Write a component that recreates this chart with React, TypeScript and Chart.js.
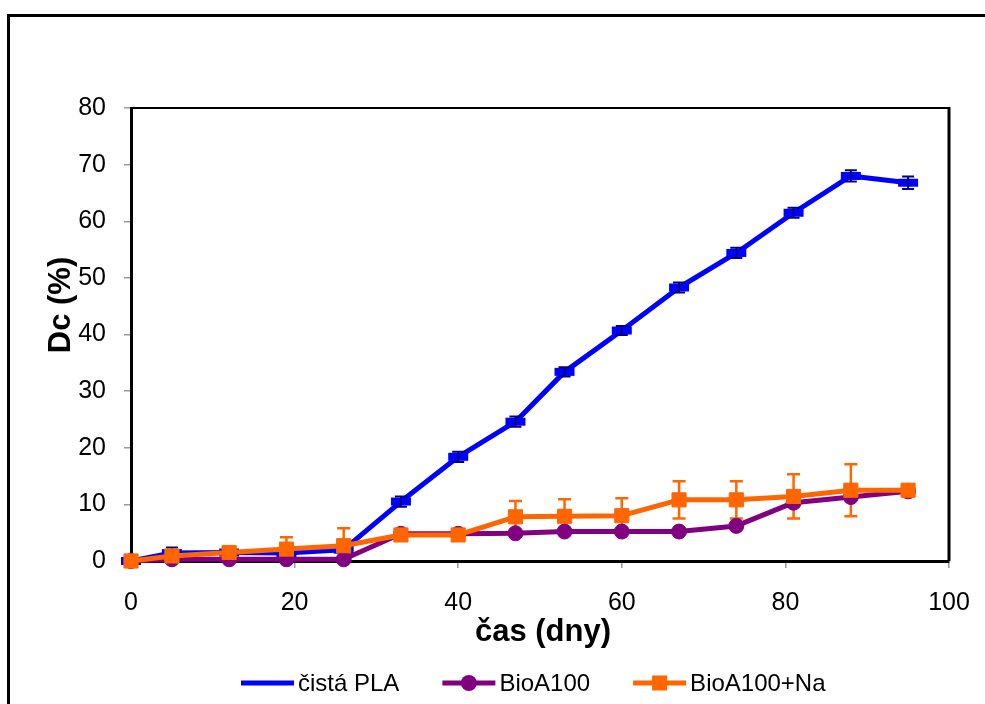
import React, { useEffect, useRef } from 'react';
import { Chart, registerables } from 'chart.js';

Chart.register(...registerables);

// ---- data ----
const days = [0, 5, 12, 19, 26, 33, 40, 47, 53, 60, 67, 74, 81, 88, 95];
const plaValues = [0, 1.4, 1.5, 1.4, 2.0, 10.5, 18.4, 24.6, 33.4, 40.7, 48.3, 54.4, 61.5, 68.0, 66.8];
const plaErrors = [0, 1.0, 0.3, 0.3, 0.3, 0.9, 0.9, 0.9, 0.8, 0.8, 0.9, 0.9, 0.9, 1.0, 1.1];
const bioValues = [0, 0.3, 0.3, 0.3, 0.3, 4.8, 4.8, 4.9, 5.2, 5.2, 5.2, 6.2, 10.3, 11.3, 12.3];
const bioNaValues = [0, 0.9, 1.5, 2.1, 2.7, 4.6, 4.6, 7.8, 7.9, 8.0, 10.8, 10.8, 11.4, 12.5, 12.5];
const bioNaErrors = [0, 0.3, 0.5, 2.1, 3.1, 0.3, 0.3, 2.8, 3.0, 3.1, 3.3, 3.3, 3.9, 4.6, 0.3];
const seriesNames = ['čistá PLA', 'BioA100', 'BioA100+Na'];
const xTicks = [0, 20, 40, 60, 80, 100];
const yTicks = [0, 10, 20, 30, 40, 50, 60, 70, 80];
const xTitle = 'čas (dny)';
const yTitle = 'Dc (%)';

const FONT = '"Liberation Sans", Arial, Helvetica, sans-serif';
const BLUE = '#0000FF';
const NAVY = '#000080';
const PURPLE = '#800080';
const ORANGE = '#FF6600';

function toPoints(vals: number[]) {
  return days.map((d, i) => ({ x: d, y: vals[i] }));
}

function drawErrors(chart: any, idx: number) {
  const ds: any = chart.data.datasets[idx];
  const errs: number[] | undefined = ds.errors;
  if (!errs) return;
  const ctx = chart.ctx;
  const xs = chart.scales.x;
  const ys = chart.scales.y;
  const area = chart.chartArea;
  ctx.save();
  ctx.strokeStyle = ds.errorColor;
  ctx.lineWidth = ds.errorWidth;
  const cap = ds.errorCap;
  ds.data.forEach((p: any, i: number) => {
    const e = errs[i];
    if (!e) return;
    const px = xs.getPixelForValue(p.x);
    const top = ys.getPixelForValue(p.y + e);
    const rawBot = ys.getPixelForValue(p.y - e);
    const bot = Math.min(rawBot, area.bottom);
    ctx.beginPath();
    ctx.moveTo(px, top);
    ctx.lineTo(px, bot);
    ctx.moveTo(px - cap, top);
    ctx.lineTo(px + cap, top);
    if (rawBot <= area.bottom) {
      ctx.moveTo(px - cap, bot);
      ctx.lineTo(px + cap, bot);
    }
    ctx.stroke();
  });
  ctx.restore();
}

const decorPlugin = {
  id: 'decor',
  beforeDraw(chart: any) {
    const ctx = chart.ctx;
    ctx.save();
    ctx.strokeStyle = '#000';
    ctx.lineWidth = 3;
    ctx.beginPath();
    ctx.moveTo(8.5, 720);
    ctx.lineTo(8.5, 15.5);
    ctx.lineTo(1000, 15.5);
    ctx.stroke();
    ctx.restore();
  },
  beforeDatasetsDraw(chart: any) {
    const ctx = chart.ctx;
    const a = chart.chartArea;
    ctx.save();
    ctx.strokeStyle = '#000';
    ctx.lineWidth = 2;
    ctx.beginPath();
    ctx.moveTo(a.left, a.top);
    ctx.lineTo(a.right, a.top);
    ctx.stroke();
    ctx.lineWidth = 3;
    ctx.beginPath();
    ctx.moveTo(a.right, a.top - 1);
    ctx.lineTo(a.right, a.bottom);
    ctx.stroke();
    ctx.restore();
    drawErrors(chart, 2);
  },
  afterDatasetDraw(chart: any, args: any) {
    if (args.index === 0) drawErrors(chart, 0);
  },
  afterDraw(chart: any) {
    const ctx = chart.ctx;
    const a = chart.chartArea;
    ctx.save();
    ctx.fillStyle = '#000';
    // x axis title
    ctx.font = 'bold 31px ' + FONT;
    ctx.textAlign = 'center';
    ctx.textBaseline = 'alphabetic';
    ctx.fillText(xTitle, (a.left + a.right) / 2 + 3, 641);
    // y axis title
    ctx.save();
    ctx.translate(70, 305);
    ctx.rotate(-Math.PI / 2);
    ctx.fillText(yTitle, 0, 0);
    ctx.restore();

    // legend
    ctx.font = '24px ' + FONT;
    ctx.textAlign = 'left';
    ctx.textBaseline = 'middle';
    const cy = 683;
    let x = 241;
    chart.data.datasets.forEach((ds: any) => {
      const lineW = 53;
      ctx.strokeStyle = ds.borderColor;
      ctx.lineWidth = 5;
      ctx.beginPath();
      ctx.moveTo(x, cy);
      ctx.lineTo(x + lineW, cy);
      ctx.stroke();
      const mx = x + lineW / 2;
      ctx.fillStyle = ds.pointBackgroundColor;
      if (ds.pointStyle === 'circle') {
        ctx.beginPath();
        ctx.arc(mx, cy, 8, 0, Math.PI * 2);
        ctx.fill();
      } else if (ds.pointStyle === 'rect') {
        ctx.fillRect(mx - 7.5, cy - 7.5, 15, 15);
      }
      ctx.fillStyle = '#000';
      const tx = x + lineW + 4;
      ctx.fillText(ds.label, tx, cy + 1);
      x = tx + ctx.measureText(ds.label).width + 43;
    });
    ctx.restore();
  },
};

export default function App() {
  const canvasRef = useRef<HTMLCanvasElement | null>(null);

  useEffect(() => {
    const canvas = canvasRef.current;
    if (!canvas) return;
    const chart = new Chart(canvas, {
      type: 'line',
      data: {
        datasets: [
          {
            label: seriesNames[0],
            data: toPoints(plaValues),
            borderColor: BLUE,
            backgroundColor: BLUE,
            borderWidth: 5,
            pointStyle: 'line',
            pointRadius: 10,
            pointBorderWidth: 8,
            pointBorderColor: BLUE,
            pointBackgroundColor: BLUE,
            tension: 0,
            clip: false,
            order: 2,
            errors: plaErrors,
            errorColor: NAVY,
            errorWidth: 2,
            errorCap: 6,
          } as any,
          {
            label: seriesNames[1],
            data: toPoints(bioValues),
            borderColor: PURPLE,
            backgroundColor: PURPLE,
            borderWidth: 5,
            pointStyle: 'circle',
            pointRadius: 7.5,
            pointBorderWidth: 1,
            pointBorderColor: PURPLE,
            pointBackgroundColor: PURPLE,
            tension: 0,
            clip: false,
            order: 1,
          } as any,
          {
            label: seriesNames[2],
            data: toPoints(bioNaValues),
            borderColor: ORANGE,
            backgroundColor: ORANGE,
            borderWidth: 5,
            pointStyle: 'rect',
            pointRadius: 10,
            pointBorderWidth: 1,
            pointBorderColor: ORANGE,
            pointBackgroundColor: ORANGE,
            tension: 0,
            clip: false,
            order: 0,
            errors: bioNaErrors,
            errorColor: ORANGE,
            errorWidth: 2.5,
            errorCap: 6.5,
          } as any,
        ],
      },
      options: {
        animation: false,
        responsive: false,
        devicePixelRatio: 1,
        layout: { padding: { left: 0, top: 108, right: 36, bottom: 93 } },
        plugins: {
          legend: { display: false },
          tooltip: { enabled: false },
          title: { display: false },
        },
        elements: { line: { borderCapStyle: 'butt', borderJoinStyle: 'round' } },
        scales: {
          x: {
            type: 'linear',
            min: 0,
            max: 100,
            afterBuildTicks: (scale: any) => {
              scale.ticks = xTicks.map((v) => ({ value: v }));
            },
            afterFit: (scale: any) => {
              scale.height = 50;
              scale.paddingLeft = 0;
              scale.paddingRight = 0;
            },
            grid: {
              display: true,
              drawOnChartArea: false,
              drawTicks: true,
              tickLength: 7,
              color: '#9a9a9a',
              lineWidth: 1.5,
            },
            border: { display: true, color: '#000', width: 3 },
            ticks: {
              color: '#000',
              font: { family: FONT, size: 25 },
              padding: 20,
              maxRotation: 0,
            },
          },
          y: {
            type: 'linear',
            min: 0,
            max: 80,
            afterBuildTicks: (scale: any) => {
              scale.ticks = yTicks.map((v) => ({ value: v }));
            },
            afterFit: (scale: any) => {
              scale.width = 131;
              scale.paddingTop = 0;
              scale.paddingBottom = 0;
            },
            grid: {
              display: true,
              drawOnChartArea: false,
              drawTicks: true,
              tickLength: 7,
              color: '#9a9a9a',
              lineWidth: 1.5,
            },
            border: { display: true, color: '#000', width: 3 },
            ticks: {
              color: '#000',
              font: { family: FONT, size: 25 },
              padding: 18,
            },
          },
        },
      } as any,
      plugins: [decorPlugin],
    });
    return () => chart.destroy();
  }, []);

  return (
    <div style={{ position: 'absolute', left: 0, top: 0, width: 985, height: 704, overflow: 'hidden', background: '#fff' }}>
      <canvas ref={canvasRef} width={985} height={704} style={{ display: 'block', width: 985, height: 704 }} />
    </div>
  );
}
